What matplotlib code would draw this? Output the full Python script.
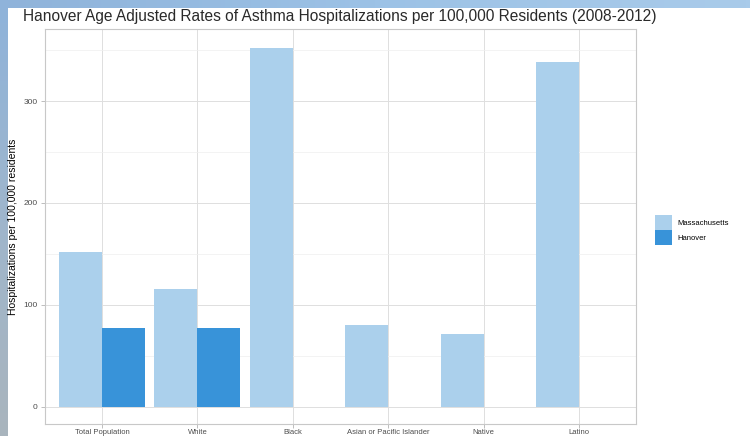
import numpy as np
import matplotlib
matplotlib.use('Agg')
import matplotlib.pyplot as plt
from matplotlib.patches import Patch

plt.rcParams['font.family'] = ['Liberation Sans', 'DejaVu Sans']

# ==================== data ====================
groups = ['Total Population', 'White', 'Black', 'Asian or Pacific Islander', 'Native', 'Latino']
massachusetts = [152, 116, 352, 80, 72, 338]
hanover = [77, 77, np.nan, np.nan, np.nan, np.nan]
series_names = ['Massachusetts', 'Hanover']
colors = ['#abd0ec', '#3893d9']
yticks = [0, 100, 200, 300]

W, H = 750, 436
fig = plt.figure(figsize=(W / 100, H / 100), dpi=100, facecolor='white')

# slide background strips (blue gradient at top and left)
top = fig.add_axes([0, 1 - 8 / H, 1, 8 / H])
top.imshow(np.linspace(0, 1, 200).reshape(1, -1), aspect='auto',
           cmap=matplotlib.colors.LinearSegmentedColormap.from_list('t', ['#8fb3da', '#9cc2e6', '#a9cbea']))
top.axis('off')
left = fig.add_axes([0, 0, 8 / W, 1 - 8 / H])
left.imshow(np.linspace(0, 1, 200).reshape(-1, 1), aspect='auto',
            cmap=matplotlib.colors.LinearSegmentedColormap.from_list('l', ['#8fb3da', '#9fb6cc', '#a9b4bd']))
left.axis('off')

# ==================== main panel ====================
px_left, px_right, px_top, px_bottom = 44.8, 636.2, 29, 424
ax = fig.add_axes([px_left / W, 1 - px_bottom / H, (px_right - px_left) / W, (px_bottom - px_top) / H])

x = np.arange(1, len(groups) + 1)
bw = 0.45
ax.bar(x - bw / 2, massachusetts, bw, color=colors[0], zorder=3)
ax.bar(x + bw / 2, hanover, bw, color=colors[1], zorder=3)

ax.set_xlim(0.4, 6.6)
ax.set_ylim(-16.7, 370.6)
ax.set_xticks(x)
ax.set_xticklabels(groups, fontsize=5.5, color='#4d4d4d')
ax.set_yticks(yticks)
ax.set_yticklabels([str(v) for v in yticks], fontsize=6, color='#4d4d4d')
ax.set_yticks([50, 150, 250, 350], minor=True)
ax.tick_params(axis='both', which='major', length=3, width=0.6, color='#b3b3b3', pad=2)
ax.tick_params(axis='x', which='major', length=3, pad=0.5)
ax.tick_params(axis='y', which='minor', length=0)
ax.grid(which='major', color='#dedede', linewidth=0.7, zorder=0)
ax.grid(which='minor', axis='y', color='#efefef', linewidth=0.5, zorder=0)
for s in ax.spines.values():
    s.set_color('#c8c8c8')
    s.set_linewidth(0.8)

ax.set_ylabel('Hospitalizations per 100,000 residents', fontsize=7.5, labelpad=4)

fig.text(23 / W, 1 - 17 / H,
         'Hanover Age Adjusted Rates of Asthma Hospitalizations per 100,000 Residents (2008-2012)',
         fontsize=11.2, color='#2a2a2a', ha='left', va='center')

handles = [Patch(facecolor=c, edgecolor='none') for c in colors]
fig.legend(handles, series_names, loc='center left', bbox_to_anchor=(651 / W, 1 - 230 / H),
           frameon=False, fontsize=5.5, handlelength=2.2, handleheight=2.6,
           labelspacing=0.0, handletextpad=0.7, borderpad=0)

fig.savefig('out.png', dpi=100)
